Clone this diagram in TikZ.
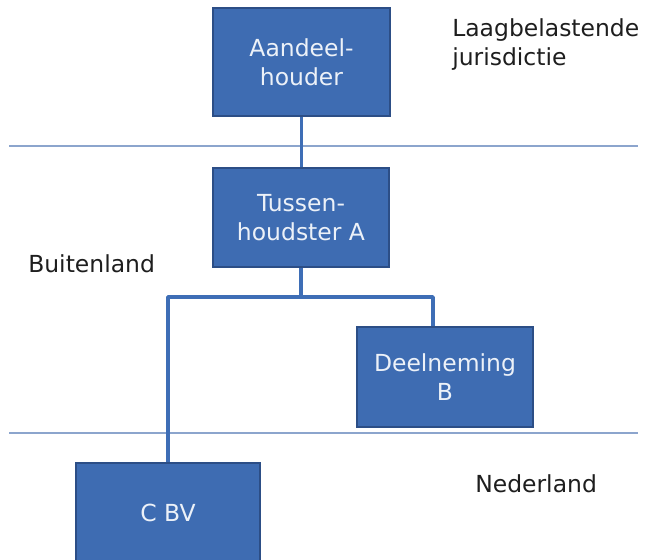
\documentclass[tikz,border=0pt]{standalone}
\usepackage{fontspec}
\setmainfont{DejaVu Sans}
\definecolor{boxfill}{RGB}{62,108,178}
\definecolor{boxline}{RGB}{44,78,134}
\definecolor{boxtext}{RGB}{236,241,248}
\definecolor{divline}{RGB}{140,165,205}
\definecolor{connline}{RGB}{62,110,182}
\definecolor{labeltext}{RGB}{30,30,30}

\begin{document}
\begin{tikzpicture}[x=0.75pt,y=0.75pt,yscale=-1,xscale=1,
  entity/.style={draw=boxline,line width=0.8pt,fill=boxfill,text=boxtext,align=center,inner sep=0pt,font=\fontsize{17.6}{21.75}\selectfont},
  conn/.style={draw=connline,line width=2.7pt,line join=round},
  divider/.style={draw=divline,line width=1.1pt},
  region/.style={anchor=base west,align=left,inner sep=0pt,text=labeltext,font=\fontsize{17.6}{21}\selectfont}]
\clip (0,0) rectangle (646,560);
%Straight Lines (borders between regions)
\coordinate (divTopL) at (9,146);
\coordinate (divTopR) at (638,146);
\coordinate (divBotL) at (9,433);
\coordinate (divBotR) at (638,433);
\draw [divider] (divTopL) -- (divTopR);
\draw [divider] (divBotL) -- (divBotR);
%Shape: Rectangles
\node [entity,minimum width=132.75pt,minimum height=81pt] (aandeel) at (301.5,62) {Aandeel-\\houder};
\node [entity,minimum width=132pt,minimum height=74.25pt] (tussen) at (301,217.5) {Tussen-\\houdster A};
\node [entity,minimum width=132pt,minimum height=75pt] (deel) at (445,377) {Deelneming\\B};
\node [entity,minimum width=138pt,minimum height=75pt] (cbv) at (168,513) {C BV};
%Connectors
\coordinate (splitL) at (168,297);
\coordinate (splitR) at (433,297);
\draw [conn] (aandeel.south) -- (aandeel.south |- tussen.north);
\draw [conn] (tussen.south) -- (tussen.south |- splitL);
\draw [conn] (cbv.north) -- (splitL) -- (splitR) -- (deel.north -| splitR);
% Text Node (base = last line)
\node [region] (laag) at (452,65) {Laagbelastende\\jurisdictie};
% Text Node
\node [region] (buiten) at (28,272) {Buitenland};
% Text Node
\node [region] (neder) at (475,492) {Nederland};
\end{tikzpicture}
\end{document}
